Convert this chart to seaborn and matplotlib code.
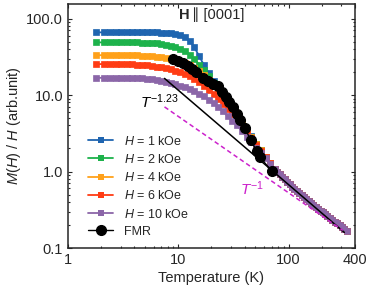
import numpy as np
import pandas as pd
import matplotlib
matplotlib.use("Agg")
import matplotlib.pyplot as plt
import seaborn as sns

# temperature grid of the M/H curves (K)
temps = [1.8, 2.1, 2.4, 2.7, 3.0, 3.4, 3.8, 4.2, 4.7, 5.2, 5.8, 6.4, 7.0, 7.7, 8.5,
         9.4, 10.4, 11.5, 12.7, 14, 15.5, 17, 19, 21, 23, 25.5, 28, 31, 34, 38,
         42, 46, 51, 56, 62, 68, 75,
         79, 83, 87, 92, 97, 102, 107, 113, 119, 125, 131, 138, 145, 152, 160,
         168, 176, 185, 195, 205, 215, 225, 237, 250, 262, 275, 290, 305, 320, 335]

# common paramagnetic tail, 79 K .. 335 K
tail = [1.0, 0.92, 0.855, 0.79, 0.735, 0.68, 0.635, 0.595, 0.558, 0.525, 0.494,
        0.465, 0.438, 0.413, 0.388, 0.365, 0.345, 0.327, 0.309, 0.292, 0.276,
        0.262, 0.247, 0.233, 0.221, 0.21, 0.198, 0.187, 0.177, 0.168]

mh_1koe = [66, 66, 66, 66, 66, 66, 66, 66, 66, 66, 65.9, 65.8, 65.5, 65, 64.2,
           63, 61, 57.5, 51, 42, 32, 25, 19.2, 15.3, 12.5, 10.3, 8.5, 6.9, 5.6,
           4.35, 3.5, 2.88, 2.32, 1.91, 1.57, 1.31, 1.09] + tail
mh_2koe = [48.8, 48.8, 48.8, 48.8, 48.8, 48.8, 48.8, 48.8, 48.6, 48.4, 48, 47.4,
           46.7, 45.7, 44.3, 42.5, 40.2, 37.3, 33.8, 29.5, 25, 21.3, 17.5, 14.5,
           12.2, 10.2, 8.4, 6.8, 5.5, 4.3, 3.45, 2.85, 2.3, 1.9, 1.56, 1.3, 1.09] + tail
mh_4koe = [33.2, 33.2, 33.2, 33.2, 33.2, 33.2, 33.1, 33, 32.8, 32.5, 32.1, 31.6,
           31.1, 30.5, 29.7, 28.8, 27.6, 26.2, 24.6, 22.8, 20.6, 18.4, 15.6, 13.2,
           11.2, 9.3, 7.8, 6.4, 5.3, 4.25, 3.42, 2.83, 2.28, 1.89, 1.55, 1.3, 1.09] + tail
mh_6koe = [25.4, 25.4, 25.4, 25.4, 25.4, 25.3, 25.2, 25.0, 24.8, 24.5, 24.1, 23.6,
           23.1, 22.5, 21.7, 20.8, 19.8, 18.7, 17.5, 16.2, 14.7, 13.3, 11.7, 10.2,
           9.0, 7.7, 6.6, 5.6, 4.8, 3.95, 3.25, 2.72, 2.22, 1.85, 1.53, 1.29, 1.085] + tail
mh_10koe = [16.8, 16.8, 16.8, 16.8, 16.8, 16.7, 16.7, 16.6, 16.5, 16.3, 16.0, 15.6,
            15.2, 14.8, 14.3, 13.8, 13.2, 12.6, 11.9, 11.2, 10.4, 9.6, 8.7, 7.8,
            7.0, 6.1, 5.3, 4.6, 4.0, 3.35, 2.85, 2.45, 2.05, 1.75, 1.48, 1.26, 1.08] + tail

fields = ["1", "2", "4", "6", "10"]
colors = ["#1f65b0", "#1db24b", "#ffa11a", "#ff3c14", "#8b66a8"]

# FMR points
t_fmr = [8.9, 9.9, 11.0, 12.2, 13.3, 14.4, 16.7, 18.5, 20.5, 22.8, 24.7, 26.9,
         28.7, 31.1, 33.8, 36.0, 40.0, 45.3, 51.3, 54.7, 70.2]
mh_fmr = [29.6, 27.8, 26.2, 23.9, 21.9, 20.0, 16.7, 15.2, 13.9, 13.1, 10.9, 9.4,
          8.1, 7.0, 5.65, 4.7, 3.7, 2.6, 1.85, 1.55, 1.02]

# guide lines (end points)
t_fit = [7.5, 320]
mh_fit = [16.5, 0.16]     # T^-1.23
t_inv = [7.5, 310]
mh_inv = [7.0, 0.17]      # T^-1

sns.set_style("ticks")
plt.rcParams["font.family"] = ["Liberation Sans", "DejaVu Sans"]
plt.rcParams["mathtext.fontset"] = "custom"
plt.rcParams["mathtext.rm"] = "Liberation Sans"
plt.rcParams["mathtext.it"] = "Liberation Sans:italic"
plt.rcParams["mathtext.bf"] = "Liberation Sans:bold"

rows = []
for f, vals in zip(fields, [mh_1koe, mh_2koe, mh_4koe, mh_6koe, mh_10koe]):
    for t, v in zip(temps, vals):
        rows.append((f, t, v))
df = pd.DataFrame(rows, columns=["field", "T", "MH"])

fig = plt.figure(figsize=(3.74, 2.92), dpi=100)
ax = fig.add_axes([68 / 374, 1 - 248 / 292, 287 / 374, 244 / 292])

sns.lineplot(data=df, x="T", y="MH", hue="field", hue_order=fields,
             palette=colors, marker="s", markersize=4.8, markeredgewidth=0.5,
             linewidth=1.3, estimator=None, sort=False, ax=ax, legend=False)
for ln in ax.lines:
    ln.set_markeredgecolor(ln.get_color())

ax.plot(t_fit, mh_fit, color="black", lw=1.1, zorder=4)
ax.plot(t_inv, mh_inv, color="#cc22cc", lw=1.1, ls=(0, (3, 2)), zorder=4)
ax.plot(t_fmr, mh_fmr, color="black", marker="o", ms=7, lw=1, zorder=5)

ax.set_xscale("log")
ax.set_yscale("log")
ax.set_xlim(1, 400)
ax.set_ylim(0.1, 155)
ax.set_xticks([1, 10, 100, 400])
ax.set_xticklabels(["1", "10", "100", "400"])
ax.set_yticks([0.1, 1, 10, 100])
ax.set_yticklabels(["0.1", "1.0", "10.0", "100.0"])
ax.tick_params(which="both", direction="in", top=True, right=True,
               labelsize=10.5, width=0.8)
ax.tick_params(which="major", length=3)
ax.tick_params(which="minor", length=1.6)
for s in ax.spines.values():
    s.set_linewidth(1.1)

ax.set_xlabel("Temperature (K)", fontsize=10.5, labelpad=3)
ax.set_ylabel(r"$M(H)$ / $H$ (arb.unit)", fontsize=10.5, labelpad=2)

ax.text(4.49, 6.76, r"$T^{\mathrm{-1.23}}$", fontsize=11, color="black")
ax.text(36, 0.49, r"$T^{\mathrm{-1}}$", fontsize=11, color="#cc22cc")
ax.text(9.9, 111, r"$\mathbf{H}$", fontsize=10.5, va="center")
ax.text(13.4, 111, "\u2225 [0001]", fontsize=10.5, va="center",
        family=["Liberation Sans", "DejaVu Sans"])

handles = []
for f, c in zip(fields, colors):
    h, = ax.plot([], [], color=c, marker="s", ms=4.6, mew=0, lw=1.3)
    handles.append(h)
h, = ax.plot([], [], color="black", marker="o", ms=7, lw=1)
handles.append(h)
labels = [r"$H$ = %s kOe" % f for f in fields] + ["FMR"]
ax.legend(handles, labels, loc="upper left", bbox_to_anchor=(0.07, 0.465),
          frameon=False, fontsize=9, borderpad=0, borderaxespad=0,
          handlelength=2.0, handletextpad=0.85, labelspacing=0.42)

fig.savefig("out.png", dpi=100)
